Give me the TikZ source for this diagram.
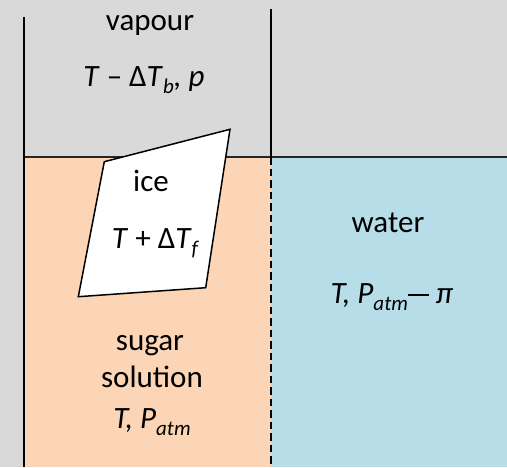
\documentclass[tikz,border=0pt]{standalone}
\usepackage{fontspec}
\setmainfont{Carlito}
\definecolor{bggray}{HTML}{D9D9D9}
\definecolor{solcol}{HTML}{FBD5B5}
\definecolor{watcol}{HTML}{B7DEE8}
\newcommand\subsc[1]{\raisebox{-7pt}{\fontsize{21}{21}\selectfont\itshape #1}}
\newcommand\longminus{\rule[7pt]{21pt}{2.2pt}}
\begin{document}
\begin{tikzpicture}[x=1pt,y=-1pt,
  lbl/.style={font=\fontsize{31}{36}\selectfont, inner sep=0pt, anchor=base},
  wall/.style={line width=1.7pt, black},
  level/.style={line width=1.3pt, black!85},
  membrane/.style={line width=1.7pt, black, dash pattern=on 7.5pt off 4pt},
  icebox/.style={line width=1.5pt, black, fill=white, line join=miter}]
\fill[bggray] (0,0) rectangle (507,467);
\useasboundingbox (0,0) rectangle (507,467);
\fill[solcol] (24,157) rectangle (271,467);
\fill[watcol] (271,157) rectangle (507,467);
\draw[level] (24,157) -- (507,157);
\draw[wall] (24,17) -- (24,467);
\draw[wall] (271,9) -- (271,157);
\draw[membrane] (271,157) -- (271,467);
\draw[icebox] (104.3,161.7) -- (230,129.3) -- (205.7,287.7) -- (78.3,296.7) -- cycle;
\node[lbl] (vap) at (150,30) {vapour};
\node[lbl] (vapstate) at (144,86) {\textit{T} – {\upshape Δ}\textit{T}\subsc{b}\textit{, p}};
\node[lbl] (ice) at (151,191) {ice};
\node[lbl] (icestate) at (155,248) {\textit{T} + {\upshape Δ}\textit{T}\subsc{f}};
\node[lbl] (wat) at (388,232) {water};
\node[lbl] (watstate) at (392,303) {\textit{T, P}\subsc{atm}\longminus\ \textit{π}};
\node[lbl] (sug1) at (150,350) {sugar};
\node[lbl] (sug2) at (152,387) {solution};
\node[lbl] (sugstate) at (152,428) {\textit{T, P}\subsc{atm}};
\end{tikzpicture}
\end{document}
